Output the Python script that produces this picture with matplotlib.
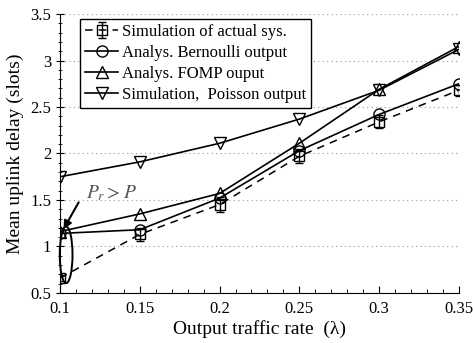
import matplotlib
matplotlib.use("Agg")
import matplotlib.pyplot as plt
from matplotlib.patches import Ellipse
from matplotlib.ticker import MultipleLocator

plt.rcParams['font.family'] = ['Liberation Serif', 'DejaVu Serif']
plt.rcParams['mathtext.fontset'] = 'stix'

rate = [0.1, 0.15, 0.2, 0.25, 0.3, 0.35]
sim_actual = [0.66, 1.13, 1.45, 1.97, 2.34, 2.68]
sim_actual_err = [0.03, 0.07, 0.08, 0.07, 0.07, 0.06]
bernoulli = [1.14, 1.18, 1.52, 2.03, 2.42, 2.75]
fomp = [1.16, 1.35, 1.57, 2.11, 2.69, 3.15]
poisson = [1.75, 1.91, 2.11, 2.37, 2.68, 3.12]

labels = ['Simulation of actual sys.', 'Analys. Bernoulli output',
          'Analys. FOMP ouput', 'Simulation,  Poisson output']

fig = plt.figure(figsize=(4.73, 3.43), dpi=100)
ax = fig.add_axes([0.127, 0.146, 0.843, 0.813])

mk = dict(markerfacecolor='none', markeredgecolor='black', markersize=8, markeredgewidth=1.0)
h0 = ax.errorbar(rate, sim_actual, yerr=sim_actual_err, color='black', linestyle=(0, (5, 4)),
                 linewidth=1.1, marker='s', capsize=3, elinewidth=1.0, label=labels[0],
                 markerfacecolor='none', markeredgecolor='black', markersize=7)
h1, = ax.plot(rate, bernoulli, color='black', linewidth=1.2, marker='o', label=labels[1], **mk)
h2, = ax.plot(rate, fomp, color='black', linewidth=1.2, marker='^', label=labels[2], **mk)
h3, = ax.plot(rate, poisson, color='black', linewidth=1.2, marker='v', label=labels[3], **mk)

ax.set_xlim(0.1, 0.35)
ax.set_ylim(0.5, 3.5)
ax.set_xticks(rate)
ax.set_xticklabels(['0.1', '0.15', '0.2', '0.25', '0.3', '0.35'])
ax.set_yticks([0.5, 1, 1.5, 2, 2.5, 3, 3.5])
ax.set_yticklabels(['0.5', '1', '1.5', '2', '2.5', '3', '3.5'])
ax.xaxis.set_minor_locator(MultipleLocator(0.01))
ax.yaxis.set_minor_locator(MultipleLocator(0.1))
ax.tick_params(axis='x', direction='in', length=5, labelsize=12, pad=6)
ax.tick_params(axis='x', which='minor', direction='in', length=3)
ax.tick_params(axis='y', direction='inout', length=6, labelsize=12)
ax.tick_params(axis='y', which='minor', direction='inout', length=3)
for s in ['top', 'right']:
    ax.spines[s].set_visible(False)
ax.yaxis.grid(True, linestyle=(0, (1, 3)), color='#999999', linewidth=0.8)
ax.set_axisbelow(True)

ax.set_xlabel('Output traffic rate  (λ)', fontsize=14, labelpad=2)
ax.set_ylabel('Mean uplink delay (slots)', fontsize=14, labelpad=4)

leg = ax.legend([h0, h1, h2, h3], labels, loc='upper left', bbox_to_anchor=(0.05, 0.983),
                fontsize=12, frameon=True, fancybox=False, edgecolor='black', framealpha=1,
                handlelength=2.0, handletextpad=0.2, borderpad=0.3, labelspacing=0.3,
                borderaxespad=0)
leg.get_frame().set_linewidth(1.0)

ax.add_patch(Ellipse((0.1038, 0.91), 0.008, 0.61, fill=False, edgecolor='black',
                     linewidth=1.4, clip_on=False))
ax.annotate('', xy=(0.1013, 1.16), xytext=(0.1125, 1.5),
            arrowprops=dict(arrowstyle='-|>', color='black', lw=1.5, mutation_scale=12))
ax.text(0.1165, 1.57, r'$P_r > P$', fontsize=14, color='#555555', va='center')

fig.savefig('out.png', dpi=100)
